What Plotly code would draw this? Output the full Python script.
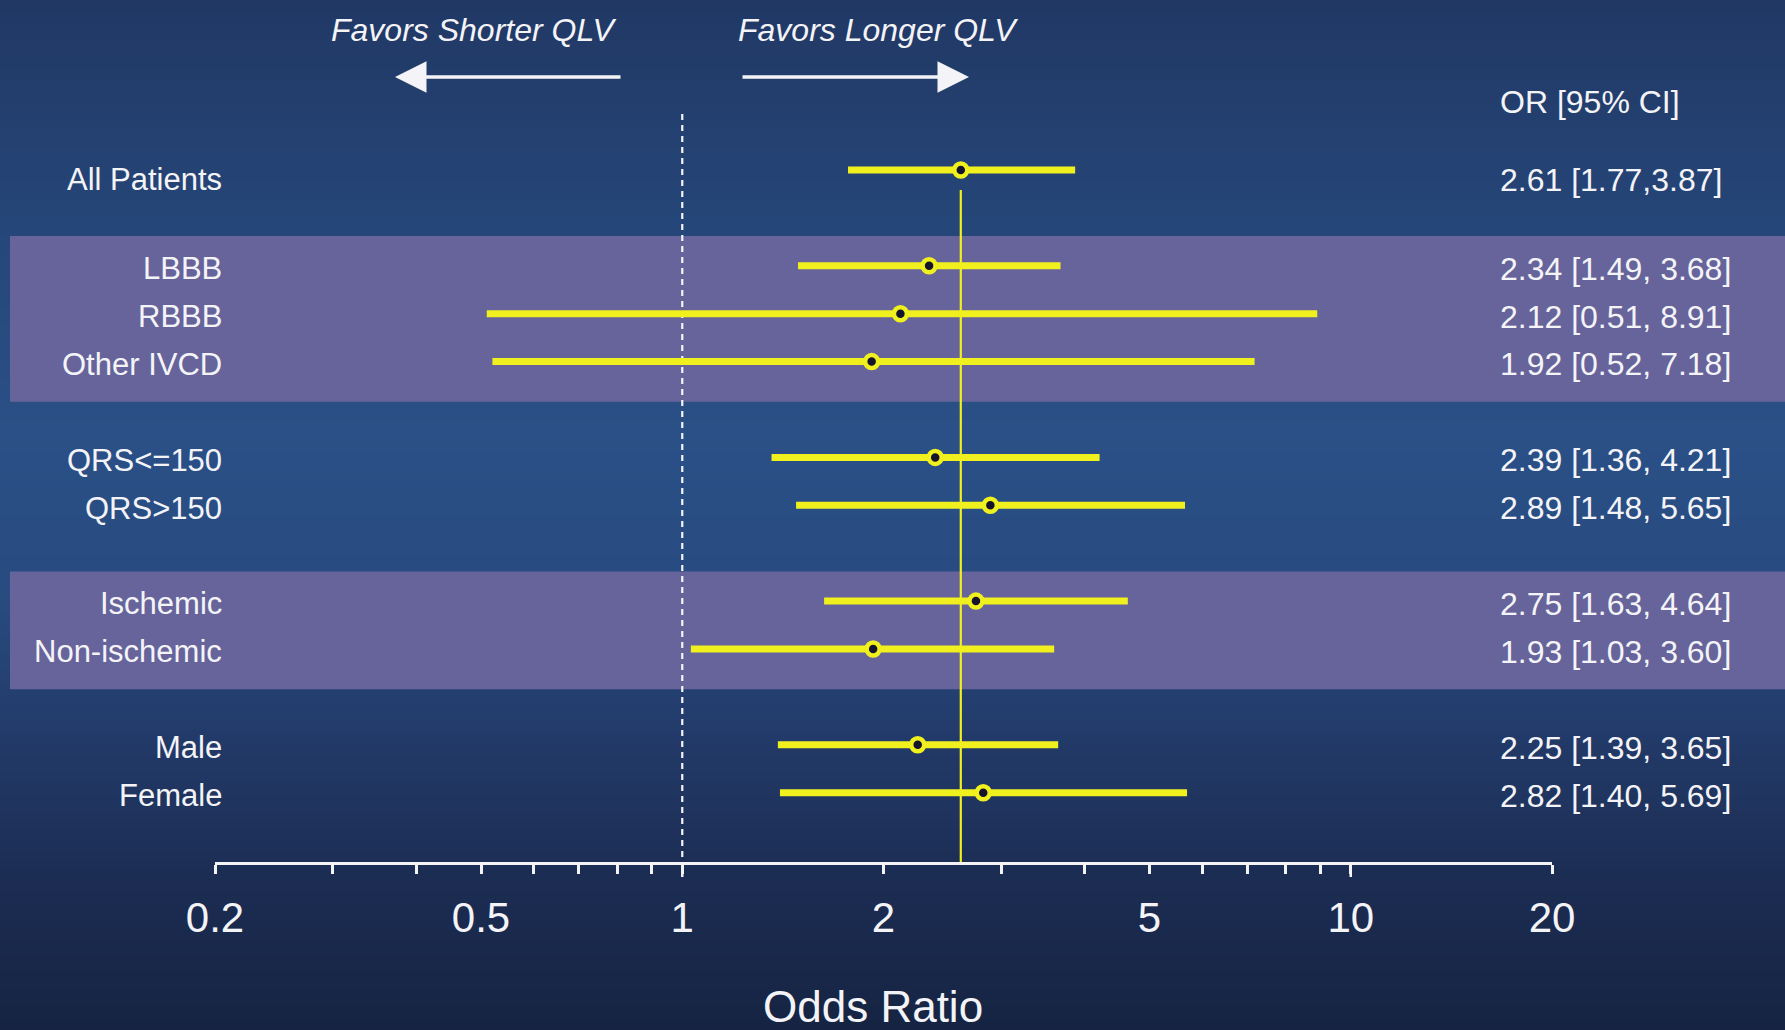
import plotly.graph_objects as go

# ---- data -------------------------------------------------------------
groups = [
    ["All Patients"],
    ["LBBB", "RBBB", "Other IVCD"],
    ["QRS<=150", "QRS>150"],
    ["Ischemic", "Non-ischemic"],
    ["Male", "Female"],
]
odds_ratio = [2.61, 2.34, 2.12, 1.92, 2.39, 2.89, 2.75, 1.93, 2.25, 2.82]
ci_low = [1.77, 1.49, 0.51, 0.52, 1.36, 1.48, 1.63, 1.03, 1.39, 1.40]
ci_high = [3.87, 3.68, 8.91, 7.18, 4.21, 5.65, 4.64, 3.60, 3.65, 5.69]
ci_text = [
    "2.61 [1.77,3.87]",
    "2.34 [1.49, 3.68]",
    "2.12 [0.51, 8.91]",
    "1.92 [0.52, 7.18]",
    "2.39 [1.36, 4.21]",
    "2.89 [1.48, 5.65]",
    "2.75 [1.63, 4.64]",
    "1.93 [1.03, 3.60]",
    "2.25 [1.39, 3.65]",
    "2.82 [1.40, 5.69]",
]
tick_vals = [0.2, 0.5, 1, 2, 5, 10, 20]
tick_text = ["0.2", "0.5", "1", "2", "5", "10", "20"]
minor_ticks = [0.3, 0.4, 0.6, 0.7, 0.8, 0.9, 3, 4, 6, 7, 8, 9]
long_ticks = [1, 10]
shaded_groups = [1, 3]

# ---- layout geometry --------------------------------------------------
W, H = 1785, 1030
ML, MR, MT, MB = 215, 233, 0, 168
PW, PH = W - ML - MR, H - MT - MB
ROW_TOP, ROW_STEP = 170, 47.9          # pixel y of first row, pixels per row


def px(x):
    return (x - ML) / PW


def py(y):
    return 1 - (y - MT) / PH


def row_of(y):
    return (y - ROW_TOP) / ROW_STEP


# one blank row between groups
labels, rows, group_rows = [], [], []
pos = 0
for g in groups:
    group_rows.append([])
    for name in g:
        labels.append(name)
        rows.append(pos)
        group_rows[-1].append(pos)
        pos += 1
    pos += 1

y_bottom = row_of(MT + PH)
y_top = row_of(MT)

YELLOW = "#f1f01f"
WHITE = "#f4f4f8"
DARK = "#15142c"
BAND = "#66649b"
FONT = "Liberation Sans, Arial"

# ---- background gradient ---------------------------------------------
stops = [
    (0.00, (33, 56, 100)),
    (0.20, (37, 69, 119)),
    (0.42, (42, 80, 135)),
    (0.58, (40, 75, 128)),
    (0.72, (34, 58, 104)),
    (0.85, (28, 45, 84)),
    (1.00, (22, 36, 66)),
]


def grad(t):
    for (t0, c0), (t1, c1) in zip(stops[:-1], stops[1:]):
        if t0 <= t <= t1:
            f = (t - t0) / (t1 - t0)
            return "rgb(%d,%d,%d)" % tuple(round(a + (b - a) * f) for a, b in zip(c0, c1))
    return "rgb(%d,%d,%d)" % stops[-1][1]


shapes = []
STRIP = 5
for y0 in range(0, H, STRIP):
    shapes.append(dict(
        type="rect", xref="paper", yref="paper", layer="below",
        x0=px(0), x1=px(W), y0=py(y0 + STRIP + 0.5), y1=py(y0),
        fillcolor=grad((y0 + STRIP / 2) / H), line=dict(width=0),
    ))

# shaded subgroup bands
for gi in shaded_groups:
    r = group_rows[gi]
    shapes.append(dict(
        type="rect", xref="paper", yref="y", layer="below",
        x0=px(10), x1=px(W), y0=r[0] - 0.62, y1=r[-1] + 0.84,
        fillcolor=BAND, line=dict(width=0),
    ))

# longer ticks at the decades
for v in long_ticks:
    shapes.append(dict(
        type="line", xref="x", yref="paper", x0=v, x1=v,
        y0=0, y1=-15 / PH, line=dict(color=WHITE, width=2.5),
    ))

fig = go.Figure()

# reference line at OR = 1
fig.add_trace(go.Scatter(
    x=[1, 1], y=[row_of(114), y_bottom], mode="lines",
    line=dict(color=WHITE, width=2.2, dash="6px,5px"),
    hoverinfo="skip", showlegend=False,
))

# overall estimate line
fig.add_trace(go.Scatter(
    x=[odds_ratio[0], odds_ratio[0]], y=[rows[0] + 0.42, y_bottom], mode="lines",
    line=dict(color=YELLOW, width=2.2),
    hoverinfo="skip", showlegend=False,
))

# confidence interval bars
bx, by = [], []
for lo, hi, r in zip(ci_low, ci_high, rows):
    bx += [lo, hi, None]
    by += [r, r, None]
fig.add_trace(go.Scatter(
    x=bx, y=by, mode="lines", line=dict(color=YELLOW, width=7),
    hoverinfo="skip", showlegend=False,
))

# point estimates
fig.add_trace(go.Scatter(
    x=odds_ratio, y=rows, mode="markers",
    marker=dict(size=13, color=DARK, line=dict(color=YELLOW, width=4.5)),
    text=labels, hovertemplate="%{text}: %{x}<extra></extra>", showlegend=False,
))

annotations = []
for name, txt, r in zip(labels, ci_text, rows):
    dy = 0.2 if r == rows[0] else 0.06
    annotations.append(dict(
        x=px(224), xref="paper", y=r + dy, yref="y", text=name,
        xanchor="right", yanchor="middle", showarrow=False,
        font=dict(family=FONT, size=31, color=WHITE),
    ))
    annotations.append(dict(
        x=px(1498), xref="paper", y=r + dy, yref="y", text=txt,
        xanchor="left", yanchor="middle", showarrow=False,
        font=dict(family=FONT, size=32, color=WHITE),
    ))

annotations.append(dict(
    x=px(1498), xref="paper", y=row_of(102), yref="y", text="OR [95% CI]",
    xanchor="left", yanchor="middle", showarrow=False,
    font=dict(family=FONT, size=32, color=WHITE),
))

# direction captions and arrows
for cx, caption in [(473, "Favors Shorter QLV"), (878, "Favors Longer QLV")]:
    annotations.append(dict(
        x=px(cx), xref="paper", y=py(30), yref="paper",
        text="<i>%s</i>" % caption, xanchor="center", yanchor="middle",
        showarrow=False, font=dict(family=FONT, size=32, color=WHITE),
    ))
for head, tail in [(395, 622), (969, 741)]:
    annotations.append(dict(
        x=px(head), xref="paper", y=py(77), yref="paper", text="",
        showarrow=True, arrowhead=2, arrowsize=1.8, arrowwidth=3.5,
        arrowcolor=WHITE, ax=tail - head, ay=0,
    ))

annotations.append(dict(
    x=px(873), xref="paper", y=py(1006), yref="paper", text="Odds Ratio",
    xanchor="center", yanchor="middle", showarrow=False,
    font=dict(family=FONT, size=44, color=WHITE),
))

fig.update_layout(
    width=W, height=H,
    margin=dict(l=ML, r=MR, t=MT, b=MB, pad=0),
    paper_bgcolor="#223a68", plot_bgcolor="rgba(0,0,0,0)",
    shapes=shapes, annotations=annotations, showlegend=False,
    xaxis=dict(
        type="log", range=[-0.69897, 1.30103], showgrid=False, zeroline=False,
        showline=True, linecolor=WHITE, linewidth=3,
        tickvals=tick_vals, ticktext=tick_text,
        ticks="outside", ticklen=9, tickwidth=2.5, tickcolor=WHITE,
        ticklabelstandoff=8,
        tickfont=dict(family=FONT, size=42, color=WHITE),
        minor=dict(tickvals=minor_ticks, ticks="outside", ticklen=9,
                   tickwidth=2.5, tickcolor=WHITE, showgrid=False),
        fixedrange=True,
    ),
    yaxis=dict(
        range=[y_bottom, y_top], visible=False, showgrid=False,
        zeroline=False, fixedrange=True,
    ),
)

fig.write_html("out.html")
